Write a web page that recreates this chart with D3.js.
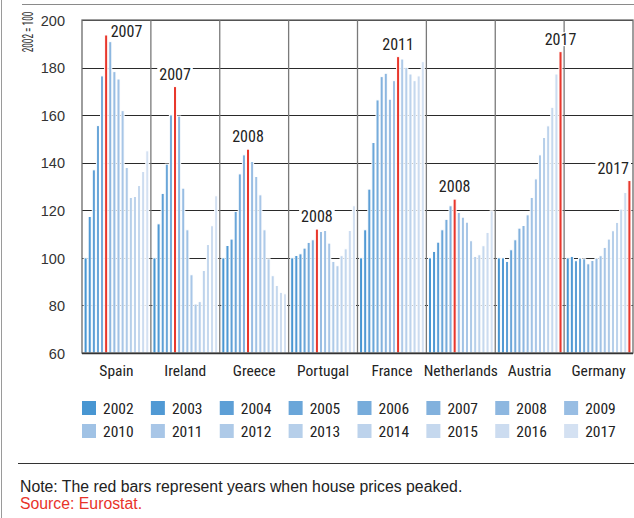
<!DOCTYPE html>
<html><head><meta charset="utf-8">
<script src="https://cdn.jsdelivr.net/npm/d3@7"></script>
<style>
html,body{margin:0;padding:0;background:#fff;}
svg{display:block;font-family:"Liberation Sans Narrow","Arial Narrow","Roboto Condensed","DejaVu Sans Condensed",sans-serif;}
</style></head>
<body>
<svg id="chart" width="634" height="518"></svg>
<script>
// ---- data ----
const countries = ["Spain","Ireland","Greece","Portugal","France","Netherlands","Austria","Germany"];
const years = [2002,2003,2004,2005,2006,2007,2008,2009,2010,2011,2012,2013,2014,2015,2016,2017];
const spain       = [100,117.4,137,155.6,176.5,193.7,190.9,178.3,175.2,161.9,138,125.4,125.8,130.4,136.3,145];
const ireland     = [100,114.3,127.1,139.4,160.1,172,159.6,129.3,111.8,92.9,80.6,81.6,94.7,105.6,113.5,126.1];
const greece      = [100,105.2,107.9,119.5,135.3,143.3,145.7,140.5,134.2,126.5,111.8,99.6,92.5,88.4,85.5,84.9];
const portugal    = [100,101,101.7,104.1,106.5,107.6,112.1,111.1,111.5,106.2,98.5,96.7,100.9,103.8,111.5,121.9];
const france      = [100,111.8,128.9,148.5,166.4,176.2,177.6,166.7,174.5,184.6,183.6,180.1,177.3,174.5,176.5,182.5];
const netherlands = [100,102.7,106.6,111.8,116.2,121.9,124.7,119.1,117.1,115,107.2,100.6,101.3,105.1,110.7,119.8];
const austria     = [100,100,98.5,103.4,107.6,112.5,113.6,118.1,125.4,133.2,143.3,150.6,155.5,163.3,177.3,186.7];
const germany     = [100,100.6,98.8,99.9,99.6,97.5,98.9,99.9,100.9,104.4,107.9,111.4,114.9,120.5,127.5,132.5];
const peakYears   = [2007,2007,2008,2008,2011,2008,2017,2017];
const yTicks      = [60,80,100,120,140,160,180,200];
const yearColors  = ["#4896d2","#5099d4","#5d9fd6","#6aa6d9","#77acdb","#82b1dd","#8db7e0","#98bde3",
                     "#a0c2e5","#a8c6e7","#aecae8","#b6cfea","#bdd3ec","#c5d8ee","#ccdcf0","#d4e1f2"];
const peakColor = "#e8372c";
const yTitle = "2002 = 100";
const noteText = "Note: The red bars represent years when house prices peaked.";
const sourceText = "Source: Eurostat.";

const seriesByCountry = [spain,ireland,greece,portugal,france,netherlands,austria,germany];
const rows = countries.map((c,i)=>({country:c, peak:peakYears[i],
  values: years.map((y,j)=>({year:y, value:seriesByCountry[i][j]}))}));

// ---- layout ----
const svg = d3.select("#chart");
const m = {left:82, right:633, top:20, bottom:353};
const x0 = d3.scaleBand().domain(countries).range([m.left, m.right]).padding(0);
const x1 = d3.scaleBand().domain(years).range([0, x0.bandwidth()]).paddingInner(0.25).paddingOuter(0.5);
const y = d3.scaleLinear().domain([60,200]).range([m.bottom, m.top]);
const color = d3.scaleOrdinal().domain(years).range(yearColors);

// outer decorations
svg.append("line").attr("x1",1.5).attr("x2",1.5).attr("y1",0).attr("y2",518).attr("stroke","#9a9a9a").attr("stroke-width",1);
svg.append("line").attr("x1",22).attr("x2",634).attr("y1",4.5).attr("y2",4.5).attr("stroke","#8a8a8a").attr("stroke-width",1);
svg.append("line").attr("x1",18).attr("x2",634).attr("y1",463.5).attr("y2",463.5).attr("stroke","#333").attr("stroke-width",1);

// horizontal gridlines
svg.append("g").selectAll("line").data(yTicks).join("line")
  .attr("x1",m.left).attr("x2",m.right)
  .attr("y1",d=>Math.round(y(d))+0.5).attr("y2",d=>Math.round(y(d))+0.5)
  .attr("stroke","#2a2a2a").attr("stroke-width",1);

// vertical group dividers
svg.append("g").selectAll("line").data(countries.slice(1)).join("line")
  .attr("x1",d=>x0(d)).attr("x2",d=>x0(d)).attr("y1",m.top).attr("y2",m.bottom)
  .attr("stroke","#7a7a7a").attr("stroke-width",1.3);

// y axis tick labels
const yAxis = d3.axisLeft(y).tickValues(yTicks).tickSize(0).tickPadding(17);
const ga = svg.append("g").attr("transform",`translate(${m.left},0)`).call(yAxis);
ga.select(".domain").remove();
ga.selectAll("text").attr("font-size",14.5).attr("fill","#333").attr("font-family",null).attr("dy","0.36em");

// y title (condensed horizontally along its reading direction)
svg.append("text").attr("transform","translate(33,32) rotate(-90) scale(0.66,1)")
  .attr("text-anchor","middle").attr("font-size",14).attr("fill","#333").text(yTitle);

// bars
const groups = svg.append("g").selectAll("g").data(rows).join("g")
  .attr("transform",d=>`translate(${x0(d.country)},0)`);
groups.selectAll("rect").data(d=>d.values.map(v=>({...v, peak:d.peak}))).join("rect")
  .attr("x",d=>x1(d.year)).attr("width",x1.bandwidth())
  .attr("y",d=>y(d.value)).attr("height",d=>m.bottom - y(d.value))
  .attr("fill",d=>d.year===d.peak ? peakColor : color(d.year))
  .attr("stroke","#fff").attr("stroke-width",1);

// peak labels
groups.each(function(d){
  const g = d3.select(this);
  const pv = d.values.find(v=>v.year===d.peak);
  const bx = x1(pv.year), bw = x1.bandwidth(), top = y(pv.value);
  const t = g.append("text").attr("font-size",16).attr("fill","#222").text(d.peak);
  const w = t.node().getComputedTextLength();
  let tx, ty;
  if (top - 7 - 12 < m.top) { tx = bx + bw + 3; ty = top + 2; }
  else {
    tx = bx + bw/2 - w/2; ty = top - 7;
    const gx = x0(d.country);
    if (gx + tx + w > m.right - 4) tx = m.right - 4 - w - gx;
  }
  t.attr("x",tx).attr("y",ty);
  g.insert("rect","text").attr("x",tx-2).attr("y",ty-12.5).attr("width",w+4).attr("height",14).attr("fill","#fff");
});

// frame
svg.append("rect").attr("x",m.left).attr("y",m.top).attr("width",m.right-m.left).attr("height",m.bottom-m.top)
  .attr("fill","none").attr("stroke","#6a6a6a").attr("stroke-width",1.3);
svg.append("line").attr("x1",m.left).attr("x2",m.right).attr("y1",m.bottom+0.5).attr("y2",m.bottom+0.5)
  .attr("stroke","#333").attr("stroke-width",1.3);

// category labels
svg.append("g").selectAll("text").data(countries).join("text")
  .attr("x",d=>x0(d)+x0.bandwidth()/2).attr("y",376).attr("text-anchor","middle")
  .attr("font-size",15.5).attr("fill","#222").text(d=>d);

// legend
const leg = svg.append("g").selectAll("g").data(years).join("g")
  .attr("transform",(d,i)=>`translate(${x0(countries[i%8])},${i<8?401:424})`);
leg.append("rect").attr("width",14).attr("height",14).attr("fill",d=>color(d));
leg.append("text").attr("x",21).attr("y",13).attr("font-size",15.5).attr("fill","#222").text(d=>d);

// note & source
svg.append("text").attr("x",20).attr("y",492).attr("font-size",15.8).attr("fill","#222")
  .attr("font-family","'Liberation Sans',Arial,sans-serif").text(noteText);
svg.append("text").attr("x",20).attr("y",509).attr("font-size",15.8).attr("fill","#e8332a")
  .attr("font-family","'Liberation Sans',Arial,sans-serif").text(sourceText);
</script>
</body></html>
